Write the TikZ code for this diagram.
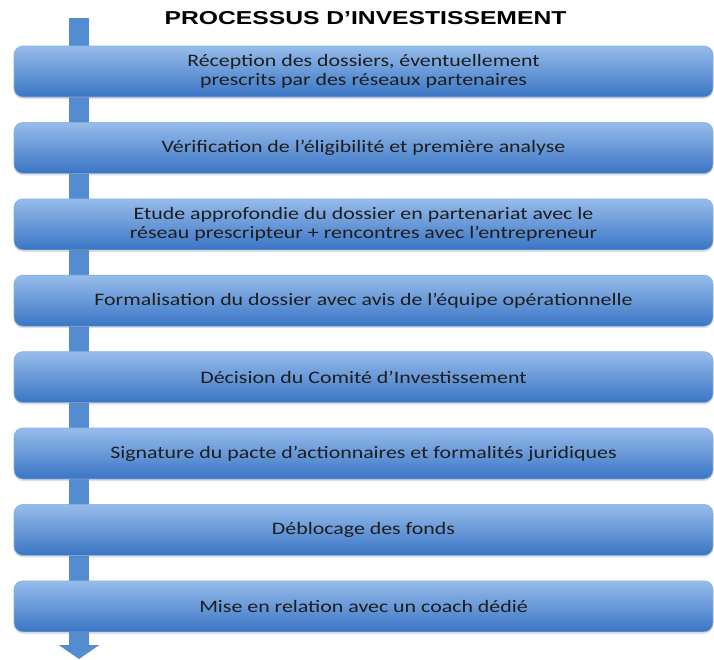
\documentclass[tikz,border=0pt]{standalone}
\usepackage{fontspec}
\setmainfont{Carlito}[FakeStretch=1.25]
\newfontfamily\titrefont{Liberation Sans}[FakeStretch=1.32]
\usetikzlibrary{arrows.meta,shadows}
\definecolor{bleuhaut}{RGB}{150,188,235}
\definecolor{bleubas}{RGB}{58,117,196}
\definecolor{bleutige}{RGB}{84,140,210}
\definecolor{texte}{RGB}{30,30,30}
\tikzset{
	etape/.style={rounded corners=9pt,minimum width=699pt,minimum height=51pt,
		top color=bleuhaut,bottom color=bleubas,draw=bleuhaut!80!bleubas,line width=.6pt,
		drop shadow={shadow xshift=0pt,shadow yshift=-2pt,opacity=.25},
		text=texte,align=center,font=\fontsize{17.5}{19}\selectfont},
	fleche/.style={line width=20pt,draw=bleutige,-{Triangle[length=14pt,width=40pt]}}
}
\begin{document}
\begin{tikzpicture}[x=1pt,y=-1pt]
    		\useasboundingbox (0,0) rectangle (714,659);
    		\coordinate (haut) at (79,18);
    		\coordinate (bas) at (79,659);
    		\draw[fleche] (haut) -- (bas);
    		\node[font=\titrefont\bfseries\fontsize{18.7}{20}\selectfont] (titre) at (365.5,18.5) {PROCESSUS D’INVESTISSEMENT};
    		\foreach \txt [count=\i] in {
    			{Réception des dossiers, éventuellement\\prescrits par des réseaux partenaires},
    			{Vérification de l’éligibilité et première analyse},
    			{Etude approfondie du dossier en partenariat avec le\\réseau prescripteur + rencontres avec l’entrepreneur},
    			{Formalisation du dossier avec avis de l’équipe opérationnelle},
    			{Décision du Comité d’Investissement},
    			{Signature du pacte d’actionnaires et formalités juridiques},
    			{Déblocage des fonds},
    			{Mise en relation avec un coach dédié}}
    			\node[etape] (e\i) at (363.5,{71.5+76.4*(\i-1)}) {\txt};
    	\end{tikzpicture}
\end{document}
